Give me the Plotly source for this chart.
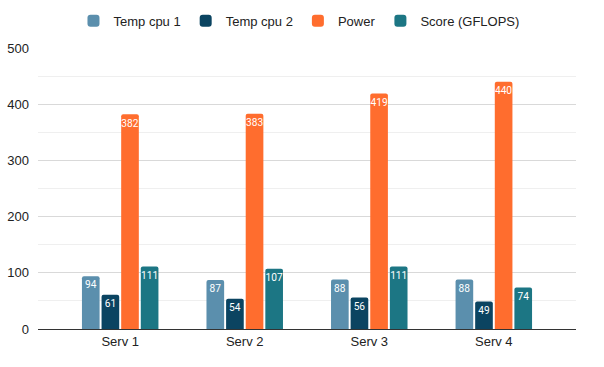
import plotly.graph_objects as go

categories = ["Serv 1", "Serv 2", "Serv 3", "Serv 4"]
temp_cpu1 = [94, 87, 88, 88]
temp_cpu2 = [61, 54, 56, 49]
power = [382, 383, 419, 440]
score = [111, 107, 111, 74]

series = [
    ("Temp cpu 1", temp_cpu1, "#5b8fad"),
    ("Temp cpu 2", temp_cpu2, "#0b4461"),
    ("Power", power, "#ff6d2e"),
    ("Score (GFLOPS)", score, "#1c7684"),
]

fig = go.Figure()
for name, vals, color in series:
    fig.add_trace(go.Bar(
        name=name, x=categories, y=vals,
        marker=dict(color=color, cornerradius=2, line=dict(width=0)),
        text=[str(v) for v in vals], textposition="inside",
        insidetextanchor="end",
        textfont=dict(color="white", size=12, family="Roboto"),
        textangle=0,
    ))

fig.update_layout(
    width=604, height=367,
    barmode="group", bargap=0.37, bargroupgap=0.1,
    plot_bgcolor="white", paper_bgcolor="white",
    margin=dict(l=38, r=28, t=48, b=38, autoexpand=False),
    font=dict(family="Liberation Sans, Arial, sans-serif", size=12, color="#222222"),
    showlegend=True,
    legend=dict(orientation="h", x=0.495, xref="container", xanchor="center",
                y=0.943, yref="container", yanchor="middle",
                font=dict(size=13, color="#222222"), itemwidth=30,
                traceorder="normal"),
    uniformtext=dict(minsize=8, mode="show"),
)
fig.update_xaxes(range=[-0.66, 3.66], showgrid=False, showline=True,
                 linecolor="#333333", linewidth=1, ticks="",
                 tickfont=dict(size=13, color="#222222"))
fig.update_yaxes(range=[0, 500], tickvals=[0, 100, 200, 300, 400, 500],
                 showgrid=True, gridcolor="#d9d9d9", gridwidth=1,
                 minor=dict(tickvals=[50, 150, 250, 350, 450], showgrid=True,
                            gridcolor="#efefef", gridwidth=1),
                 zeroline=False, showline=False, ticks="",
                 tickfont=dict(size=13, color="#222222"), ticklabelstandoff=8)

fig.write_html("out.html", config={"displayModeBar": False},
               post_script="document.body.style.margin='0';")
